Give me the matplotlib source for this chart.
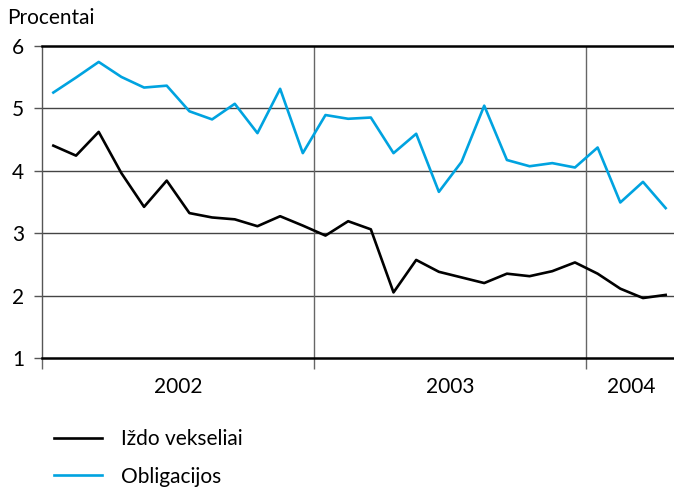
import matplotlib.pyplot as plt
import numpy as np

plt.rcParams['font.family'] = ['Lato', 'DejaVu Sans']

# monthly data, 2002-01 .. 2004-04
months = np.arange(28) + 0.5
izdo = [4.40, 4.24, 4.62, 3.96, 3.42, 3.84, 3.32, 3.25, 3.22, 3.11, 3.27, 3.12,
        2.96, 3.19, 3.06, 2.05, 2.57, 2.38, 2.29, 2.20, 2.35, 2.31, 2.39, 2.53,
        2.35, 2.11, 1.96, 2.01]
oblig = [5.25, 5.49, 5.74, 5.50, 5.33, 5.36, 4.95, 4.82, 5.07, 4.60, 5.31, 4.28,
         4.89, 4.83, 4.85, 4.28, 4.59, 3.66, 4.14, 5.04, 4.17, 4.07, 4.12, 4.05,
         4.37, 3.49, 3.82, 3.40]
years = ['2002', '2003', '2004']
year_bounds = [0, 12, 24, 28]

fs = 15

fig = plt.figure(figsize=(6.74, 4.88), dpi=100)
ax = fig.add_axes([42/674, 1-358/488, 635/674, (358-45.7)/488])

ax.set_xlim(0, 28)
ax.set_ylim(1, 6)

for y in [2, 3, 4, 5]:
    ax.axhline(y, color='#444444', lw=1.0, zorder=1)
for b in year_bounds[1:3]:
    ax.axvline(b, color='#666666', lw=1.0, zorder=1)

ln_ob, = ax.plot(months, oblig, color='#00a3e0', lw=1.9, zorder=3)
ln_iz, = ax.plot(months, izdo, color='black', lw=1.9, zorder=3)

ax.spines['right'].set_visible(False)
ax.spines['top'].set_linewidth(1.8)
ax.spines['bottom'].set_linewidth(1.8)
ax.spines['left'].set_color('#555555')
ax.spines['left'].set_linewidth(1.0)

ax.set_yticks([1, 2, 3, 4, 5, 6])
ax.tick_params(axis='y', length=6, width=1, color='#555555', labelsize=fs, pad=7)
ax.set_xticks(year_bounds[:3])
ax.set_xticklabels([])
ax.tick_params(axis='x', which='major', length=8, width=1, color='#666666')
centers = [(year_bounds[i] + year_bounds[i+1]) / 2 for i in range(3)]
ax.set_xticks(centers, minor=True)
ax.set_xticklabels(years, minor=True)
ax.tick_params(axis='x', which='minor', length=0, labelsize=fs, pad=14)

fig.text(7/674, 1-18/488, 'Procentai', fontsize=fs, va='center', ha='left')

fig.legend([ln_iz, ln_ob], ['Iždo vekseliai', 'Obligacijos'], loc='upper left',
           bbox_to_anchor=(54/674, 1-429/488), frameon=False, fontsize=fs,
           borderpad=0, borderaxespad=0, handlelength=2.3, labelspacing=0.85,
           handletextpad=0.9)

plt.savefig('out.png', dpi=100)
